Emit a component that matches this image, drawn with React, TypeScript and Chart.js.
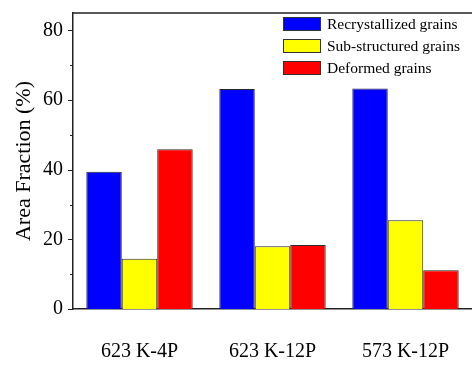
import { useEffect, useRef } from "react";
import { Chart, registerables } from "chart.js";

Chart.register(...registerables);

const categories = ["623 K-4P", "623 K-12P", "573 K-12P"];
const recrystallized = [39.4, 63.2, 63.3];
const subStructured = [14.4, 18.0, 25.5];
const deformed = [45.9, 18.4, 11.1];
const seriesLabels = ["Recrystallized grains", "Sub-structured grains", "Deformed grains"];
const seriesColors = ["#0000ff", "#ffff00", "#ff0000"];
const yMajorTicks = [0, 20, 40, 60, 80];
const yMinorTicks = [10, 30, 50, 70];

const FONT = "'Liberation Serif', 'Times New Roman', serif";

// Top frame line plus outward major/minor ticks on the value axis
const frameTicks = {
  id: "frameTicks",
  afterDraw(chart: any) {
    const { ctx, chartArea, scales } = chart;
    const y = scales.y;
    ctx.save();
    ctx.strokeStyle = "#222";
    ctx.lineWidth = 1.5;
    ctx.beginPath();
    ctx.moveTo(chartArea.left, chartArea.top);
    ctx.lineTo(chartArea.right, chartArea.top);
    ctx.stroke();
    ctx.lineWidth = 1;
    ctx.beginPath();
    yMajorTicks.forEach((v) => {
      const py = Math.round(y.getPixelForValue(v)) + 0.5;
      ctx.moveTo(chartArea.left - 5, py);
      ctx.lineTo(chartArea.left, py);
    });
    yMinorTicks.forEach((v) => {
      const py = Math.round(y.getPixelForValue(v)) + 0.5;
      ctx.moveTo(chartArea.left - 3, py);
      ctx.lineTo(chartArea.left, py);
    });
    ctx.stroke();
    ctx.restore();
  },
};

// Boxed legend in the upper right corner of the plot
const boxLegend = {
  id: "boxLegend",
  afterDraw(chart: any) {
    const { ctx } = chart;
    const x0 = 283;
    const top = 17;
    const boxW = 38;
    const boxH = 14;
    const pitch = 22;
    ctx.save();
    ctx.font = `15.5px ${FONT}`;
    ctx.textBaseline = "middle";
    ctx.textAlign = "left";
    chart.data.datasets.forEach((ds: any, i: number) => {
      const by = top + i * pitch;
      ctx.fillStyle = ds.backgroundColor;
      ctx.fillRect(x0, by, boxW, boxH);
      ctx.strokeStyle = "#333";
      ctx.lineWidth = 1;
      ctx.strokeRect(x0 + 0.5, by + 0.5, boxW - 1, boxH - 1);
      ctx.fillStyle = "#000";
      ctx.fillText(ds.label, x0 + boxW + 6, by + boxH / 2 + 1);
    });
    ctx.restore();
  },
};

const clearPadding = (scale: any) => {
  scale.paddingTop = 0;
  scale.paddingBottom = 0;
  scale.paddingLeft = 0;
  scale.paddingRight = 0;
};

export default function App() {
  const canvasRef = useRef<HTMLCanvasElement | null>(null);

  useEffect(() => {
    document.body.style.margin = "0";
    const canvas = canvasRef.current;
    if (!canvas) return;
    const values = [recrystallized, subStructured, deformed];
    const chart = new Chart(canvas, {
      type: "bar",
      data: {
        labels: categories,
        datasets: seriesLabels.map((label, i) => ({
          label,
          data: values[i],
          backgroundColor: seriesColors[i],
          borderColor: "#2a2a2a",
          borderWidth: 1,
          categoryPercentage: 0.8,
          barPercentage: 1.0,
        })),
      },
      options: {
        responsive: false,
        animation: false,
        devicePixelRatio: 1,
        layout: { padding: { top: 13, right: 0, left: 0, bottom: 0 } },
        plugins: {
          legend: { display: false },
          tooltip: { enabled: false },
        },
        scales: {
          x: {
            grid: { display: false, drawTicks: false },
            border: { display: true, color: "#222", width: 1.5 },
            ticks: {
              color: "#000",
              font: { family: FONT, size: 20 },
              padding: 31,
              maxRotation: 0,
            },
            afterFit(scale: any) {
              scale.height = 56;
              clearPadding(scale);
            },
          },
          y: {
            min: 0,
            max: 85,
            grid: { display: false, drawTicks: false },
            border: { display: true, color: "#222", width: 1.5 },
            ticks: {
              color: "#000",
              font: { family: FONT, size: 20 },
              padding: 10,
            },
            afterBuildTicks(scale: any) {
              scale.ticks = yMajorTicks.map((v) => ({ value: v }));
            },
            afterFit(scale: any) {
              scale.width = 73;
              clearPadding(scale);
            },
            title: {
              display: true,
              text: "Area Fraction (%)",
              color: "#000",
              font: { family: FONT, size: 22, lineHeight: 1 },
              padding: { top: 13, bottom: 0 },
            },
          },
        },
      },
      plugins: [frameTicks, boxLegend],
    });
    return () => chart.destroy();
  }, []);

  return (
    <div style={{ width: 472, height: 365 }}>
      <canvas ref={canvasRef} width={472} height={365} />
    </div>
  );
}
